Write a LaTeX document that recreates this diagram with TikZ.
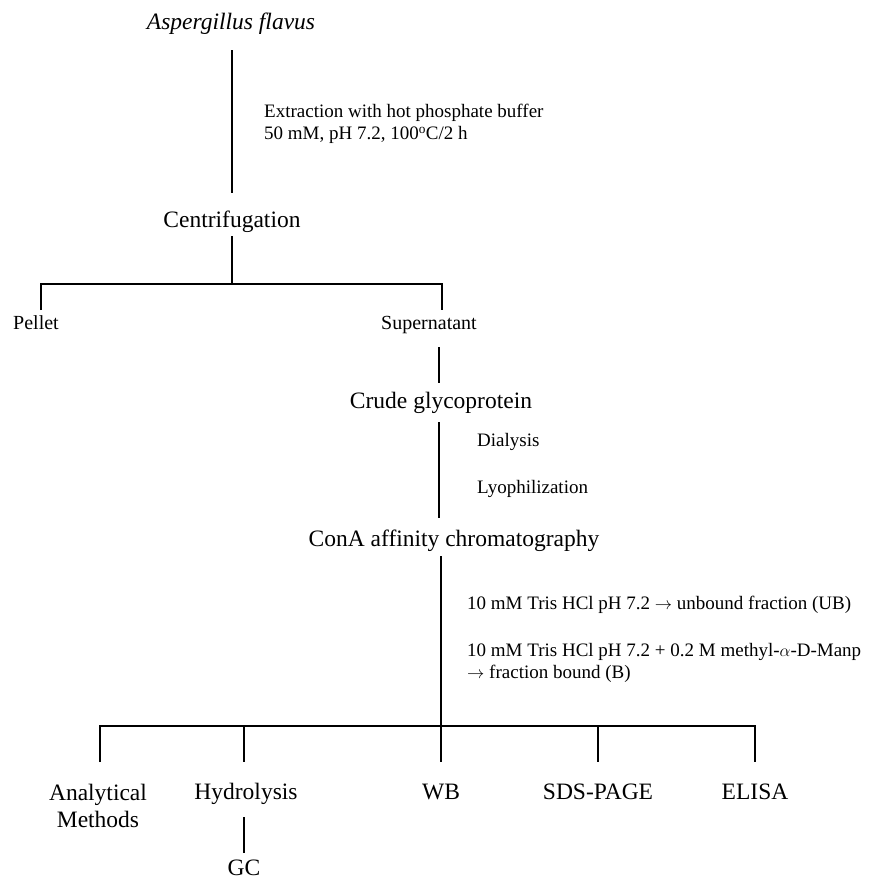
\documentclass[tikz,border=0pt]{standalone}
\usepackage{fontspec}
\setmainfont{Liberation Serif}
\begin{document}
\begin{tikzpicture}[x=1pt,y=-1pt,
  every node/.style={inner sep=0pt},
  big/.style={font=\fontsize{23.5}{27}\selectfont},
  bottom/.style={big, anchor=base},
  mid/.style={font=\fontsize{20}{24}\selectfont, anchor=base},
  small/.style={font=\fontsize{19}{21.5}\selectfont, anchor=west, align=left},
  ln/.style={line width=2.7pt}]
\useasboundingbox (0,0) rectangle (888,884);
% nodes
\node[big] (asp) at (231,24) {\itshape Aspergillus flavus};
\node[small] (ext) at (264,124) {Extraction with hot phosphate buffer\\50 mM, pH 7.2, 100\textsuperscript{o}C/2 h};
\node[big] (cent) at (232,222) {Centrifugation};
\node[mid] (pel) at (36,329) {Pellet};
\node[mid] (sup) at (429,329) {Supernatant};
\node[big] (crude) at (441,403) {Crude glycoprotein};
\node[small] (dia) at (477,442) {Dialysis};
\node[small] (lyo) at (477,489) {Lyophilization};
\node[big] (cona) at (454,541) {ConA affinity chromatography};
\node[small] (ub) at (467,605) {10 mM Tris HCl pH 7.2 $\rightarrow$ unbound fraction (UB)};
\node[small] (b) at (467,663) {10 mM Tris HCl pH 7.2 + 0.2 M methyl-$\alpha$-D-Manp\\$\rightarrow$ fraction bound (B)};
\node[big, anchor=north, align=center] (ana) at (98,784) {Analytical\\Methods};
\node[bottom] (hyd) at (246,799) {Hydrolysis};
\node[bottom] (wb) at (441,799) {WB};
\node[bottom] (sds) at (598,799) {SDS-PAGE};
\node[bottom] (eli) at (755,799) {ELISA};
\node[big] (gc) at (244,868) {GC};
% junction coordinates
\coordinate (a1) at (232,50);  \coordinate (a2) at (232,193);
\coordinate (c1) at (232,236); \coordinate (c2) at (232,284);
\coordinate (bl) at (41,284);  \coordinate (br) at (442,284);
\coordinate (pl) at (41,310);  \coordinate (sr) at (442,310);
\coordinate (s1) at (439,347); \coordinate (s2) at (439,383);
\coordinate (g1) at (439,422); \coordinate (g2) at (439,518);
\coordinate (k1) at (441,556); \coordinate (k2) at (441,726);
\coordinate (dl) at (100,726); \coordinate (dr) at (755,726);
\coordinate (d1) at (100,762); \coordinate (d2) at (244,726); \coordinate (d2e) at (244,762);
\coordinate (d3) at (441,762); \coordinate (d4) at (598,726); \coordinate (d4e) at (598,762);
\coordinate (d5) at (755,762);
\coordinate (h1) at (244,817); \coordinate (h2) at (244,853);
% connectors
\draw[ln] (a1) -- (a2);
\draw[ln] (c1) -- (c2);
\draw[ln] (pl) -- (bl) -- (br) -- (sr);
\draw[ln] (s1) -- (s2);
\draw[ln] (g1) -- (g2);
\draw[ln] (k1) -- (k2);
\draw[ln] (d1) -- (dl) -- (dr) -- (d5);
\draw[ln] (d2) -- (d2e);
\draw[ln] (k2) -- (d3);
\draw[ln] (d4) -- (d4e);
\draw[ln] (h1) -- (h2);
\end{tikzpicture}
\end{document}
